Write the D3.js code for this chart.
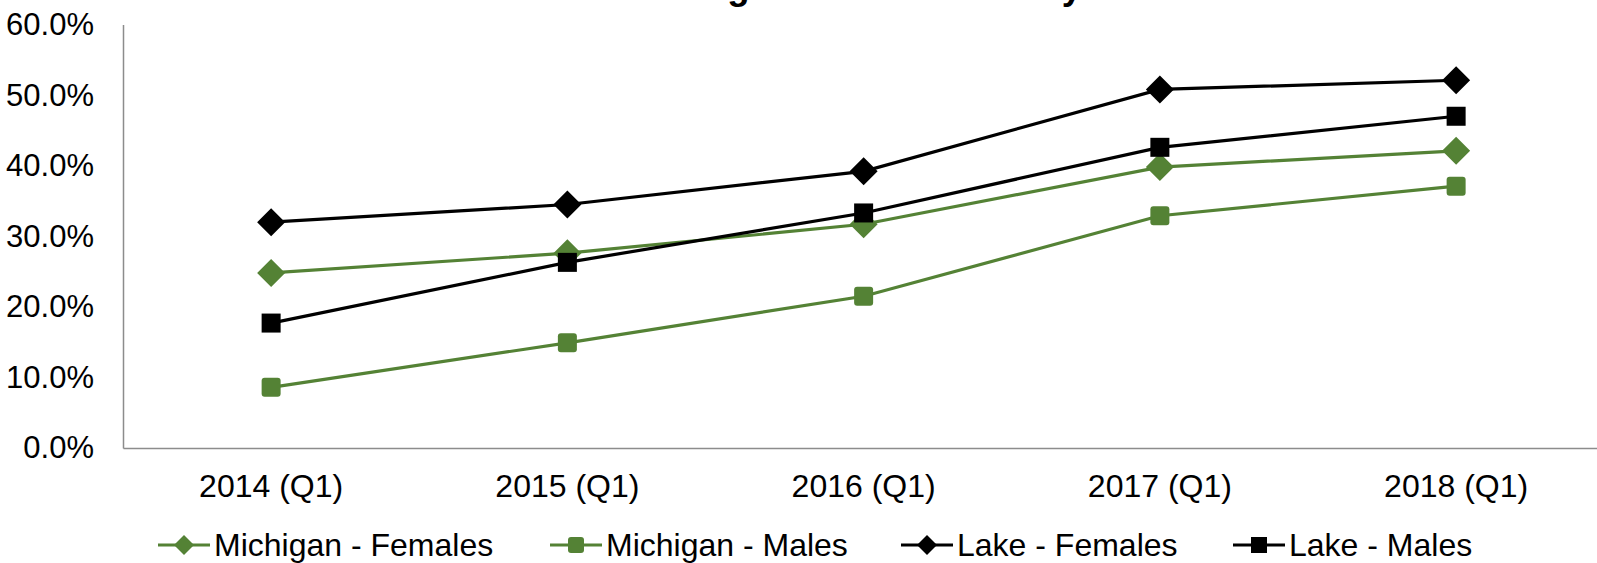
<!DOCTYPE html>
<html>
<head>
<meta charset="utf-8">
<script src="https://cdn.jsdelivr.net/npm/d3@7"></script>
<style>
  html, body { margin: 0; padding: 0; background: #fff; overflow: hidden; }
  svg { display: block; }
  text { font-family: "Liberation Sans", Arial, sans-serif; fill: #000; }
</style>
</head>
<body>
<svg id="chart" width="1597" height="563"></svg>
<script>
const title = "Michigan vs. Lake County";
const categories = ["2014 (Q1)", "2015 (Q1)", "2016 (Q1)", "2017 (Q1)", "2018 (Q1)"];
const michiganFemales = [0.248, 0.276, 0.317, 0.398, 0.421];
const michiganMales   = [0.086, 0.149, 0.215, 0.329, 0.371];
const lakeFemales     = [0.320, 0.345, 0.392, 0.508, 0.521];
const lakeMales       = [0.177, 0.263, 0.333, 0.426, 0.470];
const yTicks = [0, 0.1, 0.2, 0.3, 0.4, 0.5, 0.6];

const series = [
  { name: "Michigan - Females", values: michiganFemales, color: "#548235", shape: "diamond", rounded: false },
  { name: "Michigan - Males",   values: michiganMales,   color: "#548235", shape: "square",  rounded: true },
  { name: "Lake - Females",     values: lakeFemales,     color: "#000000", shape: "diamond", rounded: false },
  { name: "Lake - Males",       values: lakeMales,       color: "#000000", shape: "square",  rounded: false }
];

const svg = d3.select("#chart");
const margin = { left: 123, top: 24.5, bottom: 448 };
const x = d3.scaleBand().domain(categories).range([margin.left, margin.left + 5 * 296.25]);
const y = d3.scaleLinear().domain([0, 0.6]).range([margin.bottom, margin.top]);
const cx = c => x(c) + x.bandwidth() / 2;

// Title (mostly outside the top of the frame, as in the reference)
svg.append("text")
  .attr("x", 858).attr("y", -1)
  .attr("text-anchor", "middle")
  .style("font-size", "36.5px").style("font-weight", "bold")
  .text(title);

// Y axis
const yAxis = d3.axisLeft(y).tickValues(yTicks).tickSize(0).tickPadding(29)
  .tickFormat(d3.format(".1%"));
const gy = svg.append("g").attr("transform", `translate(${margin.left},0)`).call(yAxis);
gy.select(".domain").attr("stroke", "#8c8c8c").attr("stroke-width", 1.5);
gy.selectAll("text").style("font-size", "31px").style("font-family", "'Liberation Sans', Arial, sans-serif").attr("fill", "#000");

// X axis
const xAxis = d3.axisBottom(x).tickSize(0).tickPadding(26);
const gx = svg.append("g").attr("transform", `translate(0,${margin.bottom})`).call(xAxis);
gx.select(".domain").attr("stroke", "#8c8c8c").attr("stroke-width", 1.5);
gx.selectAll("text").style("font-size", "32px").style("font-family", "'Liberation Sans', Arial, sans-serif").attr("fill", "#000");

// Marker drawing helper
function drawMarker(g, s, px, py, big) {
  if (s.shape === "diamond") {
    const r = big ? 14 : 10;
    g.append("path")
      .attr("d", `M${px},${py - r}L${px + r},${py}L${px},${py + r}L${px - r},${py}Z`)
      .attr("fill", s.color);
  } else {
    const w = big ? 19 : 16;
    g.append("rect")
      .attr("x", px - w / 2).attr("y", py - w / 2)
      .attr("width", w).attr("height", w)
      .attr("rx", s.rounded ? 3 : 0)
      .attr("fill", s.color);
  }
}

const line = d3.line().x((d, i) => cx(categories[i])).y(d => y(d));
series.forEach(s => {
  const g = svg.append("g");
  g.append("path").datum(s.values)
    .attr("d", line).attr("fill", "none")
    .attr("stroke", s.color).attr("stroke-width", 3.2);
  s.values.forEach((v, i) => drawMarker(g, s, cx(categories[i]), y(v), true));
});

// Legend
const legendX = [158, 550, 901, 1233];
const legendY = 545;
series.forEach((s, i) => {
  const g = svg.append("g");
  const x0 = legendX[i];
  g.append("line").attr("x1", x0).attr("x2", x0 + 52)
    .attr("y1", legendY).attr("y2", legendY)
    .attr("stroke", s.color).attr("stroke-width", 3.2);
  drawMarker(g, s, x0 + 26, legendY, false);
  g.append("text").attr("x", x0 + 56).attr("y", legendY)
    .attr("dy", "0.33em")
    .style("font-size", "32px")
    .text(s.name);
});
</script>
</body>
</html>
